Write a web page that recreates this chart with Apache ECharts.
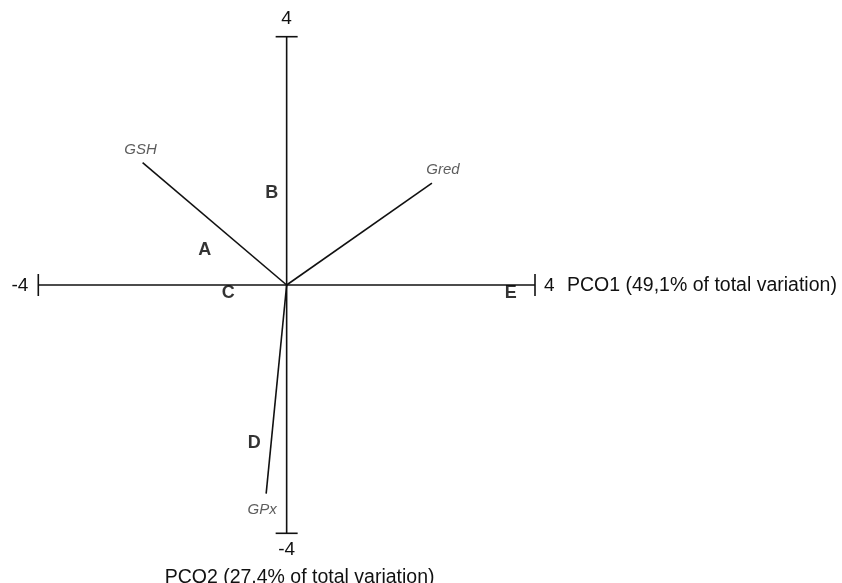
<!DOCTYPE html>
<html>
<head>
<meta charset="utf-8">
<style>
  html, body { margin: 0; padding: 0; background: #fff; }
  #chart { width: 842px; height: 583px; }
</style>
<script src="https://cdn.jsdelivr.net/npm/echarts@6/dist/echarts.min.js"></script>
</head>
<body>
<div id="chart"></div>
<script>
// PCO biplot: axis range, vector loadings and group centroids
const axisRange = [-4, 4];
const tickLabels = ['-4', '4'];
const xTitle = 'PCO1 (49,1% of total variation)';
const yTitle = 'PCO2 (27,4% of total variation)';

const vectorNames = ['GSH', 'Gred', 'GPx'];
const vectorX = [-2.32, 2.34, -0.33];
const vectorY = [1.97, 1.64, -3.36];

const groupNames = ['A', 'B', 'C', 'D', 'E'];
const groupX = [-1.32, -0.24, -0.94, -0.52, 3.61];
const groupY = [0.56, 1.48, -0.13, -2.55, -0.13];

// label placement around each vector tip (pixels)
const vectorLabelOffset = {
  GSH: [-2, -13],
  Gred: [11, -13],
  GPx: [-4, 16]
};

const FONT = '"Liberation Sans", Arial, Helvetica, sans-serif';
const INK = '#111';

const chart = echarts.init(document.getElementById('chart'), null, { renderer: 'canvas' });

// Cross-shaped axes with end caps, tick labels and axis titles
function renderAxes(params, api) {
  const lo = axisRange[0], hi = axisRange[1];
  const l = api.coord([lo, 0]);
  const r = api.coord([hi, 0]);
  const t = api.coord([0, hi]);
  const b = api.coord([0, lo]);
  const cap = 11;
  const lineStyle = { stroke: INK, lineWidth: 1.6 };
  const tickFont = { fill: INK, font: '19px ' + FONT };
  const titleFont = { fill: INK, font: '19.5px ' + FONT };
  return {
    type: 'group',
    children: [
      { type: 'line', shape: { x1: l[0], y1: l[1], x2: r[0], y2: r[1] }, style: lineStyle },
      { type: 'line', shape: { x1: t[0], y1: t[1], x2: b[0], y2: b[1] }, style: lineStyle },
      { type: 'line', shape: { x1: l[0], y1: l[1] - cap, x2: l[0], y2: l[1] + cap }, style: lineStyle },
      { type: 'line', shape: { x1: r[0], y1: r[1] - cap, x2: r[0], y2: r[1] + cap }, style: lineStyle },
      { type: 'line', shape: { x1: t[0] - cap, y1: t[1], x2: t[0] + cap, y2: t[1] }, style: lineStyle },
      { type: 'line', shape: { x1: b[0] - cap, y1: b[1], x2: b[0] + cap, y2: b[1] }, style: lineStyle },
      { type: 'text', x: l[0] - 10, y: l[1] + 1, style: Object.assign({ text: tickLabels[0], align: 'right', verticalAlign: 'middle' }, tickFont) },
      { type: 'text', x: r[0] + 9, y: r[1] + 1, style: Object.assign({ text: tickLabels[1], align: 'left', verticalAlign: 'middle' }, tickFont) },
      { type: 'text', x: t[0], y: t[1] - 8, style: Object.assign({ text: tickLabels[1], align: 'center', verticalAlign: 'bottom' }, tickFont) },
      { type: 'text', x: b[0], y: b[1] + 7, style: Object.assign({ text: tickLabels[0], align: 'center', verticalAlign: 'top' }, tickFont) },
      { type: 'text', x: r[0] + 32, y: r[1] + 1, style: Object.assign({ text: xTitle, align: 'left', verticalAlign: 'middle' }, titleFont) },
      { type: 'text', x: b[0] - 122, y: b[1] + 44, style: Object.assign({ text: yTitle, align: 'left', verticalAlign: 'middle' }, titleFont) }
    ]
  };
}

const vectorSeries = vectorNames.map((name, i) => ({
  name: name,
  type: 'line',
  data: [[0, 0], [vectorX[i], vectorY[i]]],
  symbol: 'none',
  lineStyle: { color: INK, width: 1.6 },
  silent: true,
  z: 3
}));

const vectorTips = {
  type: 'scatter',
  symbolSize: 0,
  silent: true,
  data: vectorNames.map((name, i) => ({
    value: [vectorX[i], vectorY[i]],
    name: name,
    label: { offset: vectorLabelOffset[name] }
  })),
  label: {
    show: true,
    position: 'inside',
    formatter: p => p.name,
    color: '#333',
    fontStyle: 'italic',
    fontSize: 15,
    fontFamily: FONT
  },
  z: 4
};

const groupSeries = {
  type: 'scatter',
  symbolSize: 0,
  silent: true,
  data: groupNames.map((name, i) => ({ value: [groupX[i], groupY[i]], name: name })),
  label: {
    show: true,
    position: 'inside',
    formatter: p => p.name,
    color: '#000',
    fontWeight: 'bold',
    fontSize: 18,
    fontFamily: FONT
  },
  z: 5
};

chart.setOption({
  animation: false,
  backgroundColor: '#fff',
  grid: { left: 38.3, top: 36.7, width: 496.7, height: 496.6 },
  xAxis: { type: 'value', min: axisRange[0], max: axisRange[1], show: false },
  yAxis: { type: 'value', min: axisRange[0], max: axisRange[1], show: false },
  series: [
    {
      type: 'custom',
      renderItem: renderAxes,
      data: [[0, 0]],
      silent: true,
      clip: false,
      z: 2
    },
    ...vectorSeries,
    vectorTips,
    groupSeries
  ]
});
</script>
</body>
</html>
